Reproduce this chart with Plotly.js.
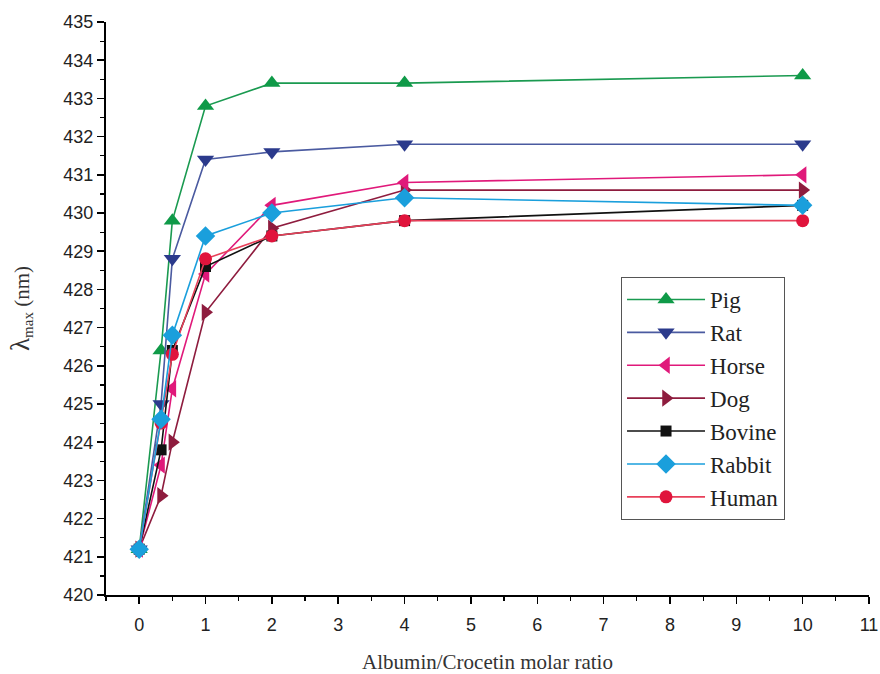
<!DOCTYPE html>
<html><head><meta charset="utf-8">
<script src="https://cdn.plot.ly/plotly-3.0.1.min.js"></script>
<style>body{margin:0;background:#fff}#c{width:880px;height:674px}</style>
</head><body><div id="c"></div>
<script>
const ratio = [0, 0.33, 0.5, 1, 2, 4, 10];
const pig    = [421.2, 426.4, 429.8, 432.8, 433.4, 433.4, 433.6];
const rat    = [421.2, 425.0, 428.8, 431.4, 431.6, 431.8, 431.8];
const horse  = [421.2, 423.4, 425.4, 428.4, 430.2, 430.8, 431.0];
const dog    = [421.2, 422.6, 424.0, 427.4, 429.6, 430.6, 430.6];
const bovine = [421.2, 423.8, 426.4, 428.6, 429.4, 429.8, 430.2];
const rabbit = [421.2, 424.6, 426.8, 429.4, 430.0, 430.4, 430.2];
const human  = [421.2, 424.5, 426.3, 428.8, 429.4, 429.8, 429.8];

function tr(name, y, color, lineColor, symbol, size, rank){
  return {x: ratio, y: y, name: name, type: 'scatter', mode: 'lines+markers',
    line: {color: lineColor, width: 1.6},
    marker: {color: color, symbol: symbol, size: size},
    legendrank: rank};
}
const data = [
  tr('Pig', pig, '#0f9a48', '#1a9a50', 'triangle-up', 15, 1),
  tr('Rat', rat, '#2b3a8c', '#4a5aa0', 'triangle-down', 15, 2),
  tr('Dog', dog, '#8e1c3e', '#8e1c3e', 'triangle-right', 15, 4),
  tr('Horse', horse, '#e0197a', '#e0197a', 'triangle-left', 15, 3),
  tr('Bovine', bovine, '#111111', '#111111', 'square', 11, 5),
  tr('Human', human, '#e0143c', '#e8405a', 'circle', 13, 7),
  tr('Rabbit', rabbit, '#1a9fdc', '#1a9fdc', 'diamond', 15, 6)
];
const axisCommon = {
  showline: true, linecolor: '#000', linewidth: 2, mirror: false,
  ticks: 'outside', ticklen: 7, tickwidth: 1.5, tickcolor: '#000',
  showgrid: false, zeroline: false,
  tickfont: {family: 'Liberation Sans, Arial, sans-serif', size: 18, color: '#222'},
};
const layout = {
  width: 880, height: 674,
  margin: {l: 106, r: 11, t: 22, b: 79},
  paper_bgcolor: '#fff', plot_bgcolor: '#fff',
  showlegend: true,
  legend: {x: 0.675, y: 0.555, xanchor: 'left', yanchor: 'top',
    bordercolor: '#555', borderwidth: 1, bgcolor: '#fff',
    font: {family: 'Liberation Serif, Times New Roman, serif', size: 23, color: '#222'},
    tracegroupgap: 0, itemwidth: 78},
  xaxis: Object.assign({}, axisCommon, {
    range: [-0.5, 11], tick0: 0, dtick: 1, ticklabelstandoff: 5,
    minor: {dtick: 0.5, tick0: 0, ticks: 'outside', ticklen: 4, tickcolor: '#000', tickwidth: 1.2},
    title: {text: 'Albumin/Crocetin molar ratio', standoff: 22,
      font: {family: 'Liberation Serif, Times New Roman, serif', size: 21, color: '#333'}}
  }),
  yaxis: Object.assign({}, axisCommon, {
    range: [420, 435], tick0: 420, dtick: 1,
    minor: {dtick: 0.5, tick0: 420, ticks: 'outside', ticklen: 4, tickcolor: '#000', tickwidth: 1.2},
    title: {text: '<span style="font-size:27px">λ</span><sub><span style="font-size:15px">max</span></sub> (nm)', standoff: 28,
      font: {family: 'Liberation Serif, Times New Roman, serif', size: 21, color: '#333'}}
  })
};
Plotly.newPlot('c', data, layout, {displayModeBar: false, staticPlot: true});
</script></body></html>
